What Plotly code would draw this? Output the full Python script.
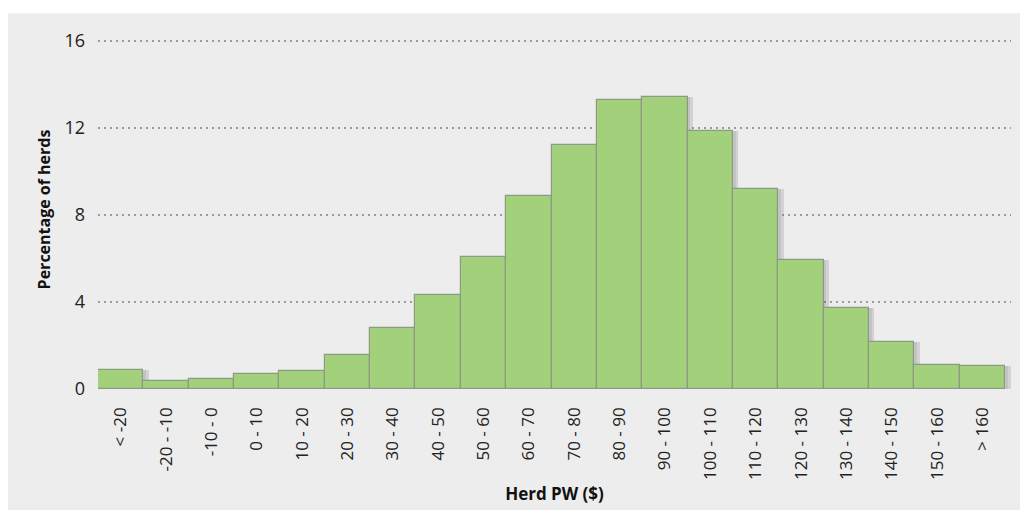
import plotly.graph_objects as go

categories = ["< -20", "-20 - -10", "-10 - 0", "0 - 10", "10 - 20", "20 - 30",
              "30 - 40", "40 - 50", "50 - 60", "60 - 70", "70 - 80", "80 - 90",
              "90 - 100", "100 - 110", "110 - 120", "120 - 130", "130 - 140",
              "140 - 150", "150 - 160", "> 160"]
pct_herds = [0.87, 0.36, 0.46, 0.69, 0.83, 1.56, 2.80, 4.32, 6.07, 8.87,
             11.22, 13.29, 13.43, 11.86, 9.20, 5.93, 3.72, 2.16, 1.10, 1.06]
y_ticks = [0, 4, 8, 12, 16]

font_family = "Open Sans, DejaVu Sans, sans-serif"
bg = "#EDEDED"

fig = go.Figure()

# soft drop shadow behind the bars
fig.add_trace(go.Bar(
    x=categories, y=pct_herds,
    width=1.0, offset=-0.38,
    marker=dict(color="rgba(90,90,100,0.18)", line=dict(width=0)),
    hoverinfo="skip", showlegend=False,
))
fig.add_trace(go.Bar(
    x=categories, y=pct_herds,
    width=1.0, offset=-0.44,
    marker=dict(color="rgba(90,90,100,0.12)", line=dict(width=0)),
    hoverinfo="skip", showlegend=False,
))

fig.add_trace(go.Bar(
    x=categories, y=pct_herds,
    width=1.0,
    marker=dict(color="#A3D07A", line=dict(color="#8C9A86", width=1.2)),
    showlegend=False,
))

# grey panel behind the chart (thin white strip at the top)
fig.add_shape(type="rect", xref="paper", yref="paper",
              x0=-0.12, x1=1.05, y0=-0.4, y1=1.047,
              fillcolor=bg, line=dict(width=0), layer="below")

fig.update_layout(
    width=1028, height=510,
    paper_bgcolor="white",
    plot_bgcolor=bg,
    barmode="overlay",
    bargap=0,
    margin=dict(l=90, r=25, t=22, b=129, autoexpand=False),
    font=dict(family=font_family, color="#222222"),
    xaxis=dict(
        range=[-0.5, 19.63],
        automargin=False,
        tickangle=-90,
        tickfont=dict(size=17, color="#222222"),
        showgrid=False, zeroline=False, showline=False,
        ticks="", ticklabelstandoff=14,
        title=dict(text="<b>Herd PW ($)</b>", font=dict(size=17, color="#111111"),
                   standoff=9),
    ),
    yaxis=dict(
        range=[0, 16.5],
        automargin=False,
        tickvals=y_ticks,
        tickfont=dict(size=18, color="#222222"),
        showgrid=True, gridcolor="#9A9A9A", griddash="2px,4px", gridwidth=1.5,
        zeroline=False, showline=False, ticks="",
        ticklabelstandoff=12,
        title=dict(text="<b>Percentage of herds</b>", font=dict(size=16, color="#111111"),
                   standoff=9),
    ),
)

fig.write_html("out.html")
